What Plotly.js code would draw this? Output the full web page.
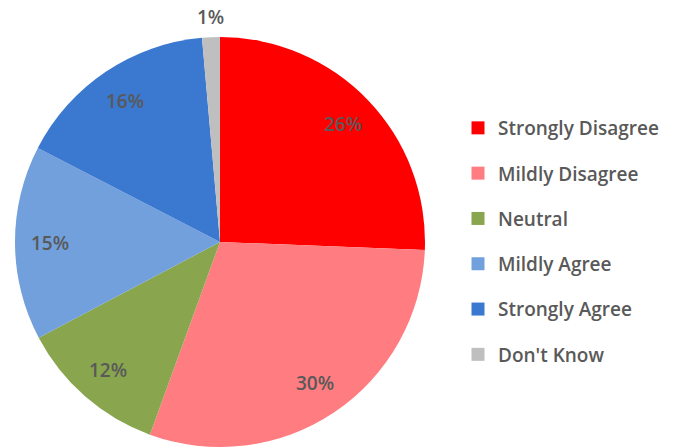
<!DOCTYPE html>
<html>
<head>
<meta charset="utf-8">
<script src="https://cdn.plot.ly/plotly-3.0.1.min.js"></script>
<style>html,body{margin:0;padding:0;background:#fff;}#chart{width:674px;height:447px;}</style>
</head>
<body>
<div id="chart"></div>
<script>
const categories = ["Strongly Disagree", "Mildly Disagree", "Neutral", "Mildly Agree", "Strongly Agree", "Don't Know"];
const values = [25.6, 29.9, 11.7, 15.3, 16.0, 1.4];
const colors = ["#ff0000", "#ff7c80", "#89a54e", "#71a0dc", "#3b78d0", "#bfbfbf"];

const W = 674, H = 447;
const cx = 220, cy = 242, R = 205;
const textColor = "#595959";
const fontFam = "'Open Sans', sans-serif";

const total = values.reduce((a, b) => a + b, 0);
const pctText = values.map(v => Math.round(v / total * 100) + "%");

const traces = [{
  type: "pie",
  labels: categories,
  values: values,
  sort: false,
  direction: "clockwise",
  rotation: 0,
  marker: {colors: colors, line: {width: 0}},
  textinfo: "none",
  hoverinfo: "label+percent",
  showlegend: false,
  domain: {x: [(cx - R) / W, (cx + R) / W], y: [0, 1 - (cy - R) / H]}
}];

categories.forEach((c, i) => {
  traces.push({
    type: "scatter", mode: "markers", x: [null], y: [null],
    name: c, legendgroup: "g" + i,
    marker: {symbol: "square", size: 13, color: colors[i]},
    hoverinfo: "skip"
  });
});

// label annotations positioned along each slice's mid-angle
const annotations = [];
let cum = 0;
values.forEach((v, i) => {
  const frac = v / total;
  const mid = (cum + frac / 2) * 2 * Math.PI;
  cum += frac;
  const rr = frac < 0.05 ? R * 1.1 : R * 0.83;
  const px = cx + rr * Math.sin(mid);
  const py = cy - rr * Math.cos(mid);
  annotations.push({
    x: px / W, y: 1 - py / H, xref: "paper", yref: "paper",
    text: pctText[i], showarrow: false,
    font: {family: fontFam, size: 19, weight: 600, color: textColor},
    xanchor: "center", yanchor: "middle"
  });
});

const layout = {
  width: W, height: H,
  margin: {l: 0, r: 0, t: 0, b: 0},
  paper_bgcolor: "#ffffff", plot_bgcolor: "#ffffff",
  xaxis: {visible: false, domain: [0.99, 1]},
  yaxis: {visible: false, domain: [0.99, 1]},
  showlegend: true,
  legend: {
    x: 458 / W, y: 1 - 109 / H, xanchor: "left", yanchor: "top",
    font: {family: fontFam, size: 19, weight: 600, color: textColor},
    tracegroupgap: 17.6, itemwidth: 30, bgcolor: "rgba(0,0,0,0)"
  },
  annotations: annotations
};

Plotly.newPlot("chart", traces, layout, {displayModeBar: false, staticPlot: true});
</script>
</body>
</html>
